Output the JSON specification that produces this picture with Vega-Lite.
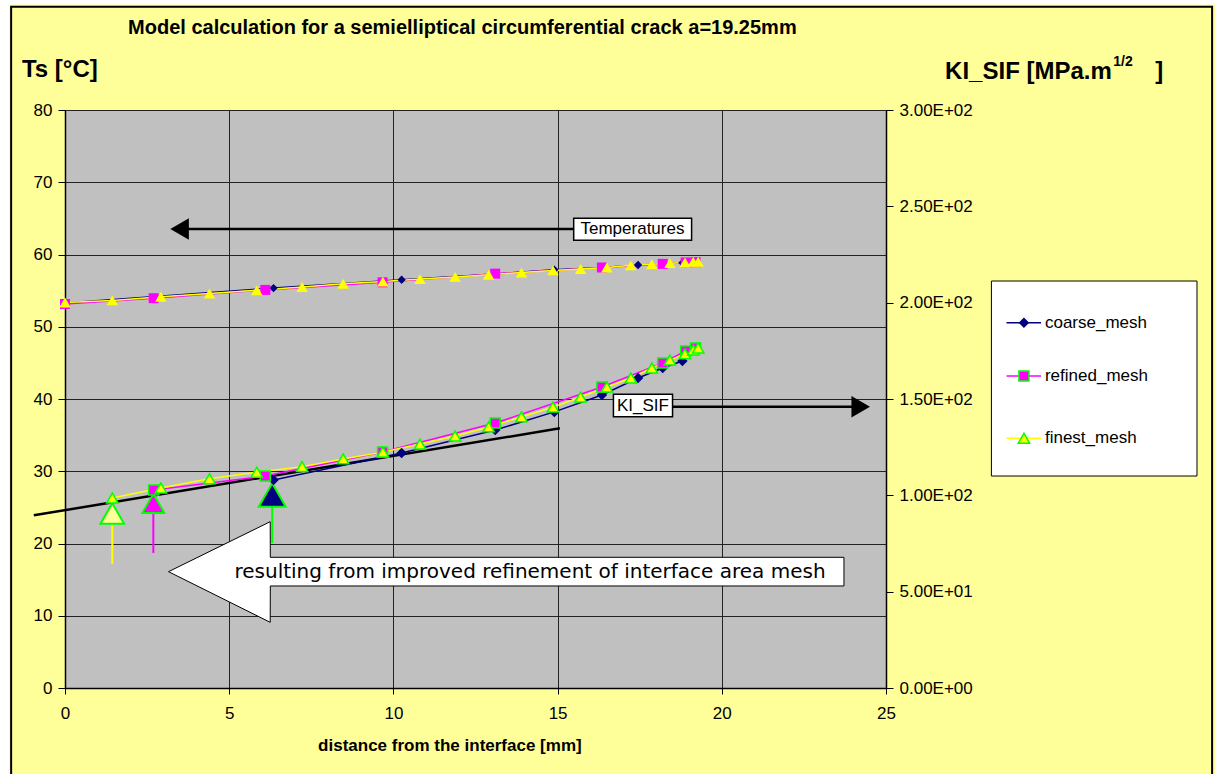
{
  "$schema": "https://vega.github.io/schema/vega-lite/v6.json",
  "width": 821,
  "height": 578,
  "autosize": {"type": "none"},
  "padding": {"left": 65, "top": 110, "right": 329, "bottom": 86},
  "background": "#FFFF99",
  "config": {
    "view": {"fill": "#C0C0C0", "stroke": "#222222", "strokeWidth": 1},
    "font": "Liberation Sans",
    "axis": {"labelFont": "Liberation Sans", "labelFontSize": 17, "labelColor": "#000000", "domainColor": "#000000", "domainWidth": 1.5, "tickColor": "#000000", "gridColor": "#222222", "gridWidth": 1, "title": null, "labelFlush": false}
  },
  "datasets": {
    "temps": [
      {"series": "coarse_mesh", "x": 0, "y": 53.3},
      {"series": "coarse_mesh", "x": 6.35, "y": 55.35},
      {"series": "coarse_mesh", "x": 10.25, "y": 56.5},
      {"series": "coarse_mesh", "x": 13.1, "y": 57.3},
      {"series": "coarse_mesh", "x": 14.9, "y": 57.9},
      {"series": "coarse_mesh", "x": 16.35, "y": 58.2},
      {"series": "coarse_mesh", "x": 17.45, "y": 58.55},
      {"series": "coarse_mesh", "x": 18.2, "y": 58.7},
      {"series": "coarse_mesh", "x": 18.8, "y": 58.85},
      {"series": "coarse_mesh", "x": 19.2, "y": 59.0},
      {"series": "refined_mesh", "x": 0, "y": 53.15},
      {"series": "refined_mesh", "x": 2.7, "y": 53.95},
      {"series": "refined_mesh", "x": 6.1, "y": 55.1},
      {"series": "refined_mesh", "x": 9.67, "y": 56.15},
      {"series": "refined_mesh", "x": 13.1, "y": 57.35},
      {"series": "refined_mesh", "x": 16.35, "y": 58.2},
      {"series": "refined_mesh", "x": 18.2, "y": 58.7},
      {"series": "refined_mesh", "x": 18.9, "y": 58.9},
      {"series": "refined_mesh", "x": 19.2, "y": 58.95},
      {"series": "finest_mesh", "x": 0, "y": 53.35},
      {"series": "finest_mesh", "x": 1.44, "y": 53.65},
      {"series": "finest_mesh", "x": 2.92, "y": 54.15},
      {"series": "finest_mesh", "x": 4.4, "y": 54.6},
      {"series": "finest_mesh", "x": 5.84, "y": 55.05},
      {"series": "finest_mesh", "x": 7.22, "y": 55.5},
      {"series": "finest_mesh", "x": 8.47, "y": 55.95},
      {"series": "finest_mesh", "x": 9.68, "y": 56.25},
      {"series": "finest_mesh", "x": 10.81, "y": 56.6},
      {"series": "finest_mesh", "x": 11.88, "y": 56.9},
      {"series": "finest_mesh", "x": 12.9, "y": 57.2},
      {"series": "finest_mesh", "x": 13.9, "y": 57.5},
      {"series": "finest_mesh", "x": 14.86, "y": 57.8},
      {"series": "finest_mesh", "x": 15.7, "y": 58.0},
      {"series": "finest_mesh", "x": 16.5, "y": 58.2},
      {"series": "finest_mesh", "x": 17.23, "y": 58.5},
      {"series": "finest_mesh", "x": 17.87, "y": 58.65},
      {"series": "finest_mesh", "x": 18.42, "y": 58.8},
      {"series": "finest_mesh", "x": 18.88, "y": 58.9},
      {"series": "finest_mesh", "x": 19.13, "y": 59.0},
      {"series": "finest_mesh", "x": 19.28, "y": 59.0}
    ],
    "ki": [
      {"series": "coarse_mesh", "x": 6.35, "y": 108.0},
      {"series": "coarse_mesh", "x": 10.25, "y": 122.0},
      {"series": "coarse_mesh", "x": 13.1, "y": 133.9},
      {"series": "coarse_mesh", "x": 14.9, "y": 143.3},
      {"series": "coarse_mesh", "x": 16.35, "y": 152.1},
      {"series": "coarse_mesh", "x": 17.45, "y": 160.9},
      {"series": "coarse_mesh", "x": 18.2, "y": 166.1},
      {"series": "coarse_mesh", "x": 18.8, "y": 169.7},
      {"series": "coarse_mesh", "x": 19.2, "y": 175.4},
      {"series": "refined_mesh", "x": 2.7, "y": 102.8},
      {"series": "refined_mesh", "x": 6.1, "y": 110.0},
      {"series": "refined_mesh", "x": 9.67, "y": 122.5},
      {"series": "refined_mesh", "x": 13.1, "y": 137.5},
      {"series": "refined_mesh", "x": 16.35, "y": 156.2},
      {"series": "refined_mesh", "x": 18.2, "y": 168.7},
      {"series": "refined_mesh", "x": 18.9, "y": 174.9},
      {"series": "refined_mesh", "x": 19.2, "y": 176.5},
      {"series": "finest_mesh", "x": 1.44, "y": 98.6},
      {"series": "finest_mesh", "x": 2.92, "y": 103.8},
      {"series": "finest_mesh", "x": 4.4, "y": 108.6},
      {"series": "finest_mesh", "x": 5.84, "y": 112.0},
      {"series": "finest_mesh", "x": 7.22, "y": 114.9},
      {"series": "finest_mesh", "x": 8.47, "y": 118.9},
      {"series": "finest_mesh", "x": 9.68, "y": 122.5},
      {"series": "finest_mesh", "x": 10.81, "y": 126.6},
      {"series": "finest_mesh", "x": 11.88, "y": 130.8},
      {"series": "finest_mesh", "x": 12.9, "y": 135.5},
      {"series": "finest_mesh", "x": 13.9, "y": 140.7},
      {"series": "finest_mesh", "x": 14.86, "y": 145.8},
      {"series": "finest_mesh", "x": 15.7, "y": 151.0},
      {"series": "finest_mesh", "x": 16.5, "y": 156.2},
      {"series": "finest_mesh", "x": 17.23, "y": 160.9},
      {"series": "finest_mesh", "x": 17.87, "y": 166.1},
      {"series": "finest_mesh", "x": 18.42, "y": 170.2},
      {"series": "finest_mesh", "x": 18.88, "y": 173.4},
      {"series": "finest_mesh", "x": 19.13, "y": 175.4},
      {"series": "finest_mesh", "x": 19.28, "y": 176.5}
    ]
  },
  "encoding": {
    "x": {"field": "x", "type": "quantitative", "scale": {"domain": [0, 25], "nice": false, "zero": false},
      "axis": {"orient": "bottom", "values": [0, 5, 10, 15, 20, 25], "grid": true, "tickSize": 6, "labelPadding": 11}}
  },
  "layer": [
    {
      "encoding": {
        "y": {"field": "y", "type": "quantitative", "scale": {"domain": [0, 80], "nice": false, "zero": false},
          "axis": {"orient": "left", "values": [0, 10, 20, 30, 40, 50, 60, 70, 80], "grid": true, "tickSize": 7, "labelPadding": 6}}
      },
      "layer": [
        {
          "data": {"values": [{"x": -5, "x2": 40, "y": 94.6, "y2": 120}, {"x": -5, "x2": -1.7, "y": -30, "y2": 120}]},
          "mark": {"type": "rect", "fill": "#FFFFFF", "clip": false},
          "encoding": {"x2": {"field": "x2"}, "y2": {"field": "y2"}}
        },
        {
          "data": {"values": [{"x": -1.64, "x2": 34.93, "y": 94.3, "y2": -25}]},
          "mark": {"type": "rect", "fill": "#FFFF99", "fillOpacity": 0, "stroke": "#000000", "strokeWidth": 2, "clip": false},
          "encoding": {"x2": {"field": "x2"}, "y2": {"field": "y2"}}
        },
        {
          "data": {"values": [{"x": -0.95, "y": 23.9}, {"x": 15.07, "y": 35.94}]},
          "mark": {"type": "line", "color": "#000000", "strokeWidth": 2.5, "clip": false},
          "encoding": {}
        },
        {
          "data": {"name": "temps"},
          "mark": {"type": "line", "strokeWidth": 1.5},
          "encoding": {
            "color": {"field": "series", "type": "nominal", "sort": null, "scale": {"domain": ["coarse_mesh", "refined_mesh", "finest_mesh"], "range": ["#000080", "#FF00FF", "#FFFF00"]}, "legend": null}
          }
        },
        {
          "data": {"name": "temps"},
          "mark": {"type": "point", "filled": true, "opacity": 1, "strokeWidth": 0},
          "encoding": {
            "shape": {"field": "series", "type": "nominal", "scale": {"domain": ["coarse_mesh", "refined_mesh", "finest_mesh"], "range": ["diamond", "square", "triangle-up"]}, "legend": null},
            "fill": {"field": "series", "type": "nominal", "scale": {"domain": ["coarse_mesh", "refined_mesh", "finest_mesh"], "range": ["#000080", "#FF00FF", "#FFFF00"]}, "legend": null},
            "size": {"field": "series", "type": "nominal", "scale": {"domain": ["coarse_mesh", "refined_mesh", "finest_mesh"], "range": [70, 130, 150]}, "legend": null}
          }
        },
        {
          "data": {"values": [{"x": 15.49, "x2": 19.08, "y": 65.01, "y2": 61.97}, {"x": 16.7, "x2": 18.5, "y": 40.65, "y2": 37.55}]},
          "mark": {"type": "rect", "fill": "#FFFFFF", "stroke": "#000000", "strokeWidth": 1.5},
          "encoding": {"x2": {"field": "x2"}, "y2": {"field": "y2"}}
        },
        {
          "data": {"values": [{"x": 3.5, "x2": 15.49, "y": 63.53}, {"x": 18.5, "x2": 24.2, "y": 38.93}]},
          "mark": {"type": "rule", "color": "#000000", "strokeWidth": 2.5},
          "encoding": {"x2": {"field": "x2"}}
        },
        {
          "data": {"values": [{"x": 3.49, "y": 63.53}]},
          "mark": {"type": "point", "shape": "triangle-left", "filled": true, "color": "#000000", "size": 460, "opacity": 1},
          "encoding": {}
        },
        {
          "data": {"values": [{"x": 24.23, "y": 38.93}]},
          "mark": {"type": "point", "shape": "triangle-right", "filled": true, "color": "#000000", "size": 460, "opacity": 1},
          "encoding": {}
        },
        {
          "data": {"values": [{"t": "Temperatures", "x": 17.28, "y": 63.5}, {"t": "KI_SIF", "x": 17.6, "y": 39.1}]},
          "mark": {"type": "text", "font": "Liberation Sans", "fontSize": 17, "color": "#000000", "align": "center", "baseline": "middle"},
          "encoding": {"text": {"field": "t"}}
        },
        {
          "data": {"values": [
            {"x": 3.152, "y": 16.1, "y2": 16.1},
            {"x": 6.249, "y": 23.02, "y2": 9.09},
            {"x": 6.252, "y": 18.09, "y2": 14.12},
            {"x": 23.72, "y": 18.09, "y2": 14.12}
          ]},
          "mark": {"type": "area", "fill": "#FFFFFF", "stroke": "#000000", "strokeWidth": 1, "opacity": 1},
          "encoding": {"y2": {"field": "y2"}}
        },
        {
          "data": {"values": [{"t": "resulting from improved refinement of interface area mesh", "x": 14.16, "y": 16.1}]},
          "mark": {"type": "text", "font": "DejaVu Sans", "fontSize": 20, "color": "#000000", "align": "center", "baseline": "middle"},
          "encoding": {"text": {"field": "t"}}
        },
        {
          "data": {"values": [{"x": 1.44, "y": 17.16, "y2": 24.1}]},
          "mark": {"type": "rule", "color": "#FFFF00", "strokeWidth": 2},
          "encoding": {"y2": {"field": "y2"}}
        },
        {
          "data": {"values": [{"x": 2.69, "y": 18.69, "y2": 25.5}]},
          "mark": {"type": "rule", "color": "#FF00FF", "strokeWidth": 2},
          "encoding": {"y2": {"field": "y2"}}
        },
        {
          "data": {"values": [{"x": 6.31, "y": 20.07, "y2": 26.7}]},
          "mark": {"type": "rule", "color": "#00FF00", "strokeWidth": 2},
          "encoding": {"y2": {"field": "y2"}}
        },
        {
          "data": {"values": [{"x": 1.44, "y": 24.15}]},
          "mark": {"type": "point", "shape": "triangle-up", "filled": true, "fill": "#FFFF99", "stroke": "#00FF00", "strokeWidth": 2, "size": 560, "opacity": 1},
          "encoding": {}
        },
        {
          "data": {"values": [{"x": 2.69, "y": 25.54}]},
          "mark": {"type": "point", "shape": "triangle-up", "filled": true, "fill": "#FF00FF", "stroke": "#00FF00", "strokeWidth": 2, "size": 480, "opacity": 1},
          "encoding": {}
        },
        {
          "data": {"values": [{"x": 6.31, "y": 26.71}]},
          "mark": {"type": "point", "shape": "triangle-up", "filled": true, "fill": "#000080", "stroke": "#00FF00", "strokeWidth": 2, "size": 730, "opacity": 1},
          "encoding": {}
        },
        {
          "data": {"values": [{"x": 28.21, "x2": 34.47, "y": 56.33, "y2": 29.34}]},
          "mark": {"type": "rect", "fill": "#FFFFFF", "stroke": "#000000", "strokeWidth": 1, "clip": false},
          "encoding": {"x2": {"field": "x2"}, "y2": {"field": "y2"}}
        },
        {
          "data": {"values": [
            {"series": "coarse_mesh", "x": 28.67, "x2": 29.72, "y": 50.56},
            {"series": "refined_mesh", "x": 28.67, "x2": 29.72, "y": 43.18},
            {"series": "finest_mesh", "x": 28.67, "x2": 29.72, "y": 34.56}
          ]},
          "mark": {"type": "rule", "strokeWidth": 1.5, "clip": false},
          "encoding": {
            "x2": {"field": "x2"},
            "color": {"field": "series", "type": "nominal", "scale": {"domain": ["coarse_mesh", "refined_mesh", "finest_mesh"], "range": ["#000080", "#FF00FF", "#FFFF00"]}, "legend": null}
          }
        },
        {
          "data": {"values": [
            {"series": "coarse_mesh", "x": 29.2, "y": 50.56},
            {"series": "refined_mesh", "x": 29.2, "y": 43.18},
            {"series": "finest_mesh", "x": 29.2, "y": 34.56}
          ]},
          "mark": {"type": "point", "filled": true, "opacity": 1, "strokeWidth": 1.5, "clip": false},
          "encoding": {
            "shape": {"field": "series", "type": "nominal", "scale": {"domain": ["coarse_mesh", "refined_mesh", "finest_mesh"], "range": ["diamond", "square", "triangle-up"]}, "legend": null},
            "fill": {"field": "series", "type": "nominal", "scale": {"domain": ["coarse_mesh", "refined_mesh", "finest_mesh"], "range": ["#000080", "#FF00FF", "#FFFF00"]}, "legend": null},
            "stroke": {"field": "series", "type": "nominal", "scale": {"domain": ["coarse_mesh", "refined_mesh", "finest_mesh"], "range": ["#000080", "#00FF00", "#00FF00"]}, "legend": null},
            "size": {"field": "series", "type": "nominal", "scale": {"domain": ["coarse_mesh", "refined_mesh", "finest_mesh"], "range": [70, 130, 150]}, "legend": null}
          }
        },
        {
          "data": {"values": [
            {"t": "coarse_mesh", "x": 29.84, "y": 50.56},
            {"t": "refined_mesh", "x": 29.84, "y": 43.18},
            {"t": "finest_mesh", "x": 29.84, "y": 34.56}
          ]},
          "mark": {"type": "text", "font": "Liberation Sans", "fontSize": 17, "color": "#000000", "align": "left", "baseline": "middle", "clip": false},
          "encoding": {"text": {"field": "t"}}
        },
        {
          "data": {"values": [
            {"t": "Model calculation for a semielliptical circumferential crack a=19.25mm", "x": 1.92, "y": 91.4}
          ]},
          "mark": {"type": "text", "font": "Liberation Sans", "fontSize": 20, "fontWeight": "bold", "color": "#000000", "align": "left", "baseline": "middle", "clip": false},
          "encoding": {"text": {"field": "t"}}
        },
        {
          "data": {"values": [
            {"t": "Ts [°C]", "x": -1.31, "y": 85.5},
            {"t": "KI_SIF [MPa.m", "x": 26.8, "y": 85.3}
          ]},
          "mark": {"type": "text", "font": "Liberation Sans", "fontSize": 24, "fontWeight": "bold", "color": "#000000", "align": "left", "baseline": "middle", "clip": false},
          "encoding": {"text": {"field": "t"}}
        },
        {
          "data": {"values": [{"t": "1/2", "x": 31.92, "y": 86.6}]},
          "mark": {"type": "text", "font": "Liberation Sans", "fontSize": 14, "fontWeight": "bold", "color": "#000000", "align": "left", "baseline": "middle", "clip": false},
          "encoding": {"text": {"field": "t"}}
        },
        {
          "data": {"values": [{"t": "]", "x": 33.2, "y": 85.3}]},
          "mark": {"type": "text", "font": "Liberation Sans", "fontSize": 24, "fontWeight": "bold", "color": "#000000", "align": "left", "baseline": "middle", "clip": false},
          "encoding": {"text": {"field": "t"}}
        },
        {
          "data": {"values": [{"t": "distance from the interface [mm]", "x": 11.72, "y": -8.0}]},
          "mark": {"type": "text", "font": "Liberation Sans", "fontSize": 17, "fontWeight": "bold", "color": "#000000", "align": "center", "baseline": "middle", "clip": false},
          "encoding": {"text": {"field": "t"}}
        }
      ]
    },
    {
      "encoding": {
        "y": {"field": "y", "type": "quantitative", "scale": {"domain": [0, 300], "nice": false, "zero": false},
          "axis": {"orient": "right", "values": [0, 50, 100, 150, 200, 250, 300], "grid": false, "tickSize": 7, "labelPadding": 6,
            "labelExpr": "datum.value == 0 ? '0.00E+00' : format(datum.value / pow(10, floor(log(datum.value) / LN10 + 1e-9)), '.2f') + 'E+' + (floor(log(datum.value) / LN10 + 1e-9) < 10 ? '0' : '') + floor(log(datum.value) / LN10 + 1e-9)"}}
      },
      "layer": [
        {
          "data": {"name": "ki"},
          "mark": {"type": "line", "strokeWidth": 1.5},
          "encoding": {
            "color": {"field": "series", "type": "nominal", "sort": null, "scale": {"domain": ["coarse_mesh", "refined_mesh", "finest_mesh"], "range": ["#000080", "#FF00FF", "#FFFF00"]}, "legend": null}
          }
        },
        {
          "data": {"name": "ki"},
          "mark": {"type": "point", "filled": true, "opacity": 1, "strokeWidth": 1.5},
          "encoding": {
            "shape": {"field": "series", "type": "nominal", "scale": {"domain": ["coarse_mesh", "refined_mesh", "finest_mesh"], "range": ["diamond", "square", "triangle-up"]}, "legend": null},
            "fill": {"field": "series", "type": "nominal", "scale": {"domain": ["coarse_mesh", "refined_mesh", "finest_mesh"], "range": ["#000080", "#FF00FF", "#FFFF00"]}, "legend": null},
            "stroke": {"field": "series", "type": "nominal", "scale": {"domain": ["coarse_mesh", "refined_mesh", "finest_mesh"], "range": ["#000080", "#00FF00", "#00FF00"]}, "legend": null},
            "size": {"field": "series", "type": "nominal", "scale": {"domain": ["coarse_mesh", "refined_mesh", "finest_mesh"], "range": [70, 130, 150]}, "legend": null}
          }
        }
      ]
    }
  ],
  "resolve": {"scale": {"y": "independent"}, "axis": {"y": "independent"}}
}
